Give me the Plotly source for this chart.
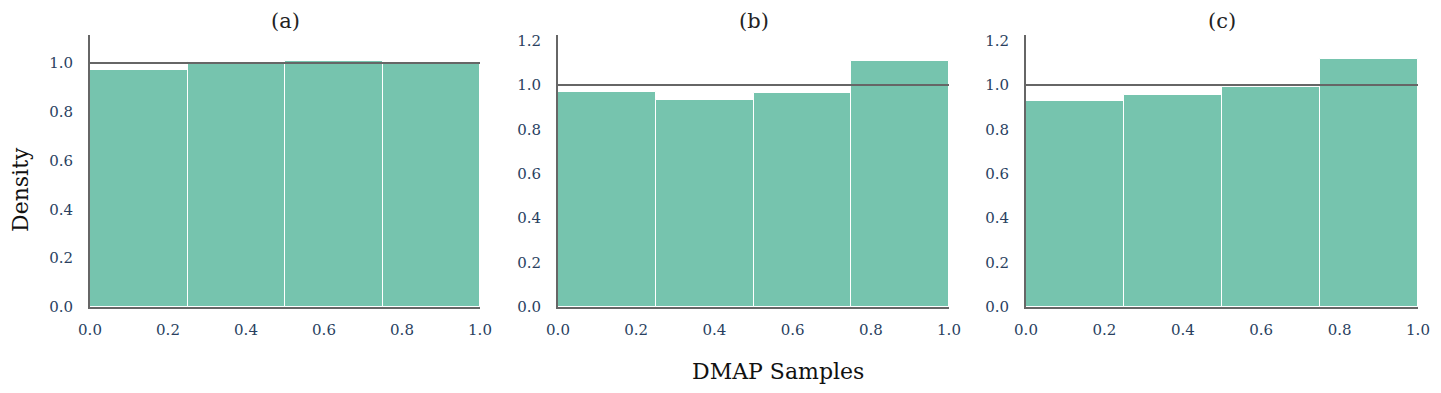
import plotly.graph_objects as go
from plotly.subplots import make_subplots

# Histogram bins (4 equal bins over [0, 1]) and densities per panel
bin_left = [0.0, 0.25, 0.5, 0.75]
bin_width = 0.25
density_a = [0.971, 1.006, 1.010, 1.002]
density_b = [0.968, 0.932, 0.964, 1.108]
density_c = [0.927, 0.955, 0.991, 1.118]
panel_titles = ["(a)", "(b)", "(c)"]
y_max = [1.115, 1.225, 1.225]
ref_level = 1.0

BAR = "#76c4ae"
SPINE = "#666666"
TICK = "#2a3f5f"
FONT = "DejaVu Serif, serif"

W, H = 1441, 393
x_px = [(90, 480), (558, 949), (1026, 1418)]
y_top, y_bot = 35, 307

fig = make_subplots(rows=1, cols=3)

for i, dens in enumerate([density_a, density_b, density_c]):
    col = i + 1
    centers = [l + bin_width / 2 for l in bin_left]
    fig.add_trace(go.Bar(
        x=centers, y=dens, width=[bin_width] * len(dens),
        marker=dict(color=BAR, line=dict(color="white", width=1)),
        showlegend=False,
    ), row=1, col=col)
    fig.add_shape(type="line", x0=0, x1=1, y0=ref_level, y1=ref_level,
                  line=dict(color=SPINE, width=2), row=1, col=col)

    xa = "xaxis" if i == 0 else f"xaxis{col}"
    ya = "yaxis" if i == 0 else f"yaxis{col}"
    x0, x1 = x_px[i]
    fig.layout[xa].update(
        domain=[x0 / W, x1 / W], range=[0, 1], tickvals=[0, 0.2, 0.4, 0.6, 0.8, 1.0],
        ticktext=["0.0", "0.2", "0.4", "0.6", "0.8", "1.0"], automargin=False,
        showline=True, linecolor=SPINE, linewidth=2, showgrid=False, zeroline=False,
        ticks="outside", ticklen=8, tickcolor="rgba(0,0,0,0)",
        tickfont=dict(size=15, color=TICK, family=FONT),
    )
    yt = [0, 0.2, 0.4, 0.6, 0.8, 1.0] + ([1.2] if y_max[i] > 1.2 else [])
    fig.layout[ya].update(
        domain=[(H - y_bot) / H, (H - y_top) / H], range=[0, y_max[i]],
        tickvals=yt, ticktext=[f"{v:.1f}" for v in yt], automargin=False,
        showline=True, linecolor=SPINE, linewidth=2, showgrid=False, zeroline=False,
        ticks="outside", ticklen=12, tickcolor="rgba(0,0,0,0)",
        tickfont=dict(size=15, color=TICK, family=FONT),
    )
    fig.add_annotation(text=panel_titles[i], x=(x0 + x1) / 2 / W, y=(H - 21) / H,
                       xref="paper", yref="paper", showarrow=False,
                       xanchor="center", yanchor="middle",
                       font=dict(size=21, color="#222222", family=FONT))

fig.add_annotation(text="Density", x=20 / W, y=(H - 190) / H, xref="paper", yref="paper",
                   textangle=-90, showarrow=False, xanchor="center", yanchor="middle",
                   font=dict(size=22, color="#111111", family=FONT))
fig.add_annotation(text="DMAP Samples", x=778 / W, y=(H - 371) / H, xref="paper", yref="paper",
                   showarrow=False, xanchor="center", yanchor="middle",
                   font=dict(size=22, color="#111111", family=FONT))

fig.update_layout(
    width=W, height=H, bargap=0,
    margin=dict(l=0, r=0, t=0, b=0),
    plot_bgcolor="white", paper_bgcolor="white",
    font=dict(family=FONT),
)

# drop the default page margin so the figure sits at the window origin
fig.write_html("out.html", config={"displayModeBar": False},
               post_script="document.body.style.margin='0';")
